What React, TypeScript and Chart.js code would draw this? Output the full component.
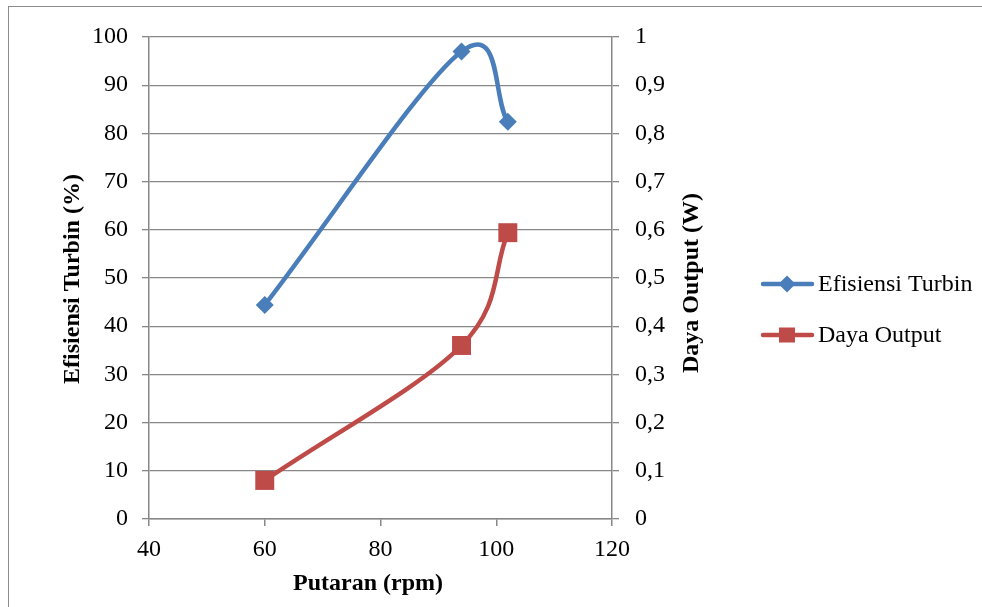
import React, { useEffect, useRef } from "react";
import { Chart, registerables } from "chart.js";

Chart.register(...registerables);

// Rotational speed (rpm) and the two measured series
const putaran = [60, 94, 102];
const efisiensiTurbin = [44.4, 97, 82.4];
const dayaOutput = [0.08, 0.36, 0.594];

// Axis ranges and tick steps
const xTicks = { min: 40, max: 120, step: 20 };
const yLeftTicks = { min: 0, max: 100, step: 10 };
const yRightTicks = { min: 0, max: 1, step: 0.1 };

const seriesNames = ["Efisiensi Turbin", "Daya Output"];
const axisTitles = { x: "Putaran (rpm)", yLeft: "Efisiensi Turbin (%)", yRight: "Daya Output (W)" };

const BLUE = "#4a7ebb";
const RED = "#be4b48";
const GRID = "#878787";
const FONT = "'Liberation Serif', 'Times New Roman', serif";

// Catmull-Rom style smoothing: interior tangents use (next - prev) / 6,
// end points aim a third of the way toward their neighbour.
const smoothSpline = {
  id: "smoothSpline",
  beforeDatasetDraw(chart: any, args: any) {
    const meta = chart.getDatasetMeta(args.index);
    const line = meta.dataset;
    const pts = meta.data;
    if (!line || !pts || pts.length < 2) return;
    line.updateControlPoints(chart.chartArea, "x");
    const n = pts.length;
    for (let i = 0; i < n; i++) {
      const p = pts[i];
      const prev = pts[i - 1];
      const next = pts[i + 1];
      if (prev && next) {
        const tx = (next.x - prev.x) / 6;
        const ty = (next.y - prev.y) / 6;
        p.cp1x = p.x - tx;
        p.cp1y = p.y - ty;
        p.cp2x = p.x + tx;
        p.cp2y = p.y + ty;
      } else if (next) {
        p.cp2x = p.x + (next.x - p.x) / 3;
        p.cp2y = p.y + (next.y - p.y) / 3;
        p.cp1x = p.x;
        p.cp1y = p.y;
      } else if (prev) {
        p.cp1x = p.x + (prev.x - p.x) / 3;
        p.cp1y = p.y + (prev.y - p.y) / 3;
        p.cp2x = p.x;
        p.cp2y = p.y;
      }
    }
    line._path = undefined;
  },
};

const titlesAndLegend = {
  id: "titlesAndLegend",
  afterDraw(chart: any) {
    const ctx = chart.ctx as CanvasRenderingContext2D;
    ctx.save();
    ctx.fillStyle = "#000";
    ctx.font = `bold 24px ${FONT}`;
    ctx.textAlign = "center";
    ctx.textBaseline = "middle";
    ctx.fillText(axisTitles.x, 368, 584);

    ctx.save();
    ctx.translate(73, 279);
    ctx.rotate(-Math.PI / 2);
    ctx.fillText(axisTitles.yLeft, 0, 0);
    ctx.restore();

    ctx.save();
    ctx.translate(692, 283);
    ctx.rotate(-Math.PI / 2);
    ctx.fillText(axisTitles.yRight, 0, 0);
    ctx.restore();

    // legend
    const rows = [
      { y: 284, color: BLUE, style: "diamond" },
      { y: 335, color: RED, style: "square" },
    ];
    rows.forEach((r, i) => {
      ctx.strokeStyle = r.color;
      ctx.fillStyle = r.color;
      ctx.lineWidth = 4.5;
      ctx.lineCap = "round";
      ctx.beginPath();
      ctx.moveTo(763, r.y);
      ctx.lineTo(812, r.y);
      ctx.stroke();
      ctx.beginPath();
      const cx = 787;
      if (r.style === "diamond") {
        ctx.moveTo(cx - 8.5, r.y);
        ctx.lineTo(cx, r.y - 8.5);
        ctx.lineTo(cx + 8.5, r.y);
        ctx.lineTo(cx, r.y + 8.5);
        ctx.closePath();
      } else {
        ctx.rect(cx - 8, r.y - 7.5, 16, 15);
      }
      ctx.fill();
      ctx.fillStyle = "#000";
      ctx.font = `24px ${FONT}`;
      ctx.textAlign = "left";
      ctx.textBaseline = "middle";
      ctx.fillText(seriesNames[i], 818, r.y + 1);
    });
    ctx.restore();
  },
};

export default function App() {
  const ref = useRef<HTMLCanvasElement>(null);

  useEffect(() => {
    if (!ref.current) return;
    const chart = new Chart(ref.current, {
      type: "line",
      data: {
        datasets: [
          {
            label: seriesNames[0],
            data: putaran.map((x, i) => ({ x, y: efisiensiTurbin[i] })),
            borderColor: BLUE,
            backgroundColor: BLUE,
            borderWidth: 4.5,
            pointStyle: "rectRot",
            pointRadius: 9,
            pointBorderWidth: 0,
            tension: 0.4,
            yAxisID: "y",
          },
          {
            label: seriesNames[1],
            data: putaran.map((x, i) => ({ x, y: dayaOutput[i] })),
            borderColor: RED,
            backgroundColor: RED,
            borderWidth: 4.5,
            pointStyle: "rect",
            pointRadius: 13.4,
            pointBorderWidth: 0,
            tension: 0.4,
            yAxisID: "y1",
          },
        ],
      },
      options: {
        responsive: false,
        animation: false,
        layout: { padding: { top: 37, left: 0, right: 0, bottom: 0 } },
        plugins: { legend: { display: false }, tooltip: { enabled: false } },
        scales: {
          x: {
            type: "linear",
            min: xTicks.min,
            max: xTicks.max,
            ticks: { stepSize: xTicks.step, color: "#000", font: { family: FONT, size: 24 }, padding: 9 },
            grid: { drawOnChartArea: false, drawTicks: true, tickLength: 7, color: GRID, lineWidth: 1.5 },
            border: { color: GRID, width: 1.5 },
            afterFit(s: any) {
              s.height = 88;
              s.paddingLeft = 0;
              s.paddingRight = 0;
            },
          },
          y: {
            position: "left",
            min: yLeftTicks.min,
            max: yLeftTicks.max,
            ticks: { stepSize: yLeftTicks.step, color: "#000", font: { family: FONT, size: 24 }, padding: 14 },
            grid: { color: GRID, lineWidth: 1.3, tickLength: 7 },
            border: { color: GRID, width: 1.5 },
            afterFit(s: any) {
              s.width = 149;
              s.paddingTop = 0;
              s.paddingBottom = 0;
            },
          },
          y1: {
            position: "right",
            min: yRightTicks.min,
            max: yRightTicks.max,
            ticks: {
              stepSize: yRightTicks.step,
              color: "#000",
              font: { family: FONT, size: 24 },
              padding: 16,
              callback: (v: any) => {
                const n = Number(v);
                if (n === 0 || n === 1) return String(n);
                return n.toFixed(1).replace(".", ",");
              },
            },
            grid: { drawOnChartArea: false, color: GRID, lineWidth: 1.3, tickLength: 7 },
            border: { color: GRID, width: 1.5 },
            afterFit(s: any) {
              s.width = 370;
              s.paddingTop = 0;
              s.paddingBottom = 0;
            },
          },
        },
      },
      plugins: [smoothSpline, titlesAndLegend],
    } as any);
    return () => chart.destroy();
  }, []);

  return (
    <div style={{ position: "fixed", left: 0, top: 0, width: 982, height: 607, overflow: "hidden", background: "#fff" }}>
      <div
        style={{
          position: "absolute",
          left: 8,
          top: 6,
          width: 1200,
          height: 1000,
          border: "1px solid #8c8c8c",
        }}
      />
      <canvas ref={ref} width={982} height={607} style={{ position: "absolute", left: 0, top: 0, display: "block" }} />
    </div>
  );
}
